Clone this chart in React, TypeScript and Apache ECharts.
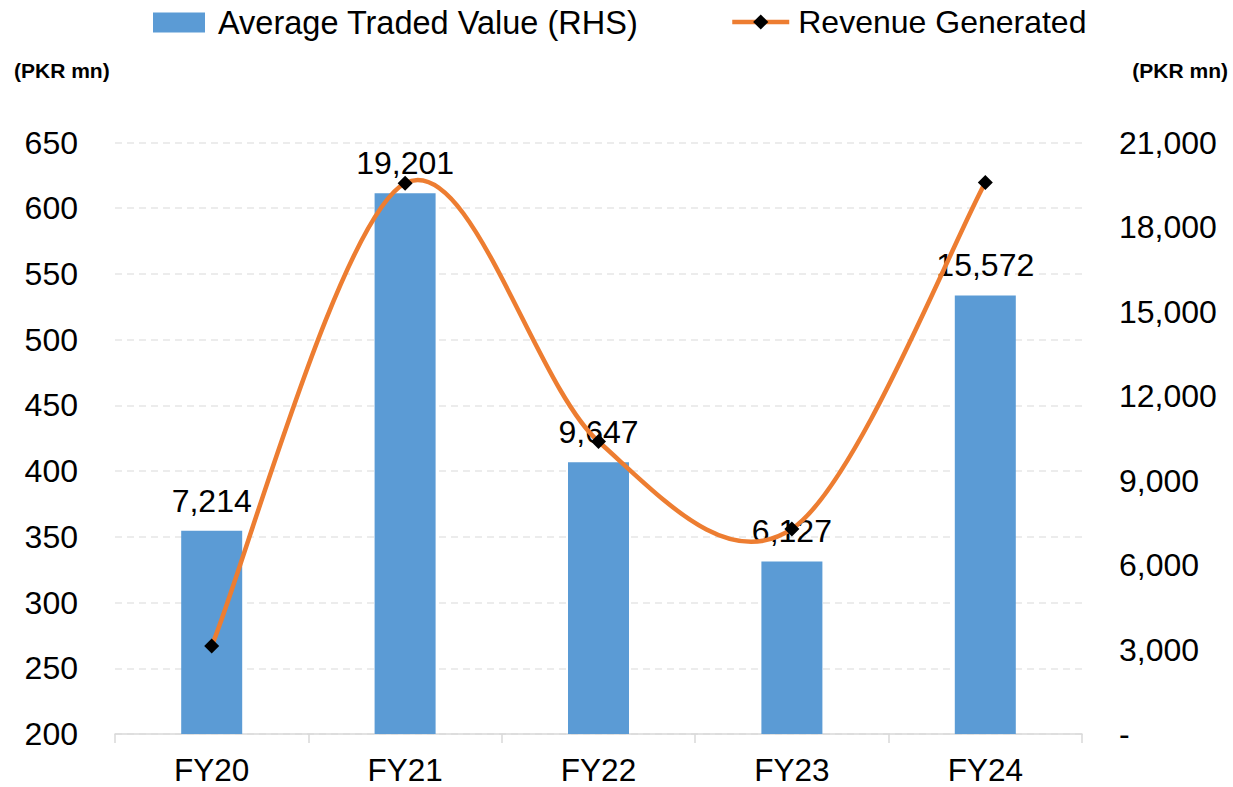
import React, { useEffect, useRef } from "react";
import * as echarts from "echarts";

const categories = ["FY20", "FY21", "FY22", "FY23", "FY24"];
const avgTradedValue = [7214, 19201, 9647, 6127, 15572];
const revenueGenerated = [267, 619, 422.5, 356, 619.5];
const leftAxis = { min: 200, max: 650, interval: 50 };
const rightAxis = { min: 0, max: 21000, interval: 3000 };

const FONT = "Liberation Sans, Arial, sans-serif";
const BAR_COLOR = "#5B9BD5";
const LINE_COLOR = "#ED7D31";

const fmt = (v: number) => v.toLocaleString("en-US");

export default function App() {
  const ref = useRef<HTMLDivElement>(null);
  useEffect(() => {
    if (!ref.current) return;
    const chart = echarts.init(ref.current, undefined, { renderer: "svg" });
    const n = revenueGenerated.length;
    const option: any = {
      animation: false,
      backgroundColor: "#ffffff",
      textStyle: { fontFamily: FONT },
      grid: { left: 115, right: 151, top: 142.5, bottom: 53 },
      legend: [
        {
          data: [{ name: "Average Traded Value (RHS)", icon: "rect" }],
          left: 153,
          top: 6,
          padding: 0,
          itemWidth: 52,
          itemHeight: 20,
          textStyle: { fontSize: 32.5, color: "#000", fontFamily: FONT, padding: [0, 0, 0, 8] },
          selectedMode: false,
        },
        {
          data: ["Revenue Generated"],
          left: 730,
          top: 6,
          padding: 0,
          itemWidth: 57,
          itemHeight: 19,
          lineStyle: { color: LINE_COLOR, width: 4.5, opacity: 1 },
          textStyle: { fontSize: 32, color: "#000", fontFamily: FONT, padding: [0, 0, 0, 4] },
          selectedMode: false,
        },
      ],
      graphic: [
        {
          type: "text",
          left: 14,
          top: 60,
          style: { text: "(PKR mn)", font: `bold 21px ${FONT}`, fill: "#000" },
        },
        {
          type: "text",
          right: 5,
          top: 60,
          style: { text: "(PKR mn)", font: `bold 21px ${FONT}`, fill: "#000" },
        },
      ],
      xAxis: {
        type: "category",
        data: categories,
        boundaryGap: true,
        axisLine: { lineStyle: { color: "#d9d9d9", width: 1.5 } },
        axisTick: { show: true, length: 9, lineStyle: { color: "#d9d9d9", width: 1.5 } },
        axisLabel: { fontSize: 31.5, color: "#000", fontFamily: FONT, margin: 20 },
      },
      yAxis: [
        {
          type: "value",
          min: leftAxis.min,
          max: leftAxis.max,
          interval: leftAxis.interval,
          axisLine: { show: false },
          axisTick: { show: false },
          axisLabel: { fontSize: 32, color: "#000", fontFamily: FONT, margin: 37 },
          splitLine: { show: true, lineStyle: { color: "#e6e6e6", width: 1.5, type: [7, 5] } },
        },
        {
          type: "value",
          position: "right",
          min: rightAxis.min,
          max: rightAxis.max,
          interval: rightAxis.interval,
          axisLine: { show: false },
          axisTick: { show: false },
          axisLabel: {
            fontSize: 32,
            color: "#000",
            fontFamily: FONT,
            margin: 37,
            formatter: (v: number) => (v === 0 ? "-" : fmt(v)),
          },
          splitLine: { show: false },
        },
      ],
      series: [
        {
          name: "Average Traded Value (RHS)",
          type: "bar",
          yAxisIndex: 1,
          data: avgTradedValue,
          barWidth: 61,
          itemStyle: { color: BAR_COLOR },
          label: {
            show: true,
            position: "top",
            distance: 14,
            fontSize: 32,
            color: "#000",
            fontFamily: FONT,
            formatter: (p: any) => fmt(p.value),
          },
          z: 2,
        },
        {
          name: "curve",
          type: "custom",
          yAxisIndex: 0,
          silent: true,
          z: 4,
          data: revenueGenerated.map((v, i) => [i, v]),
          encode: { x: 0, y: 1 },
          renderItem: (params: any, api: any) => {
            const i = params.dataIndex;
            if (i >= n - 1) return { type: "group", children: [] };
            const p = (k: number) => api.coord([k, revenueGenerated[k]]);
            const p0 = p(i);
            const p1 = p(i + 1);
            const pm = i > 0 ? p(i - 1) : p0;
            const p2 = i + 2 < n ? p(i + 2) : p1;
            const t = 1 / 6;
            return {
              type: "bezierCurve",
              shape: {
                x1: p0[0],
                y1: p0[1],
                cpx1: p0[0] + (p1[0] - pm[0]) * t,
                cpy1: p0[1] + (p1[1] - pm[1]) * t,
                cpx2: p1[0] - (p2[0] - p0[0]) * t,
                cpy2: p1[1] - (p2[1] - p0[1]) * t,
                x2: p1[0],
                y2: p1[1],
              },
              style: { stroke: LINE_COLOR, lineWidth: 4.5, fill: null, lineCap: "round" },
            };
          },
        },
        {
          name: "Revenue Generated",
          type: "line",
          yAxisIndex: 0,
          data: revenueGenerated,
          symbol: "diamond",
          symbolSize: 15,
          itemStyle: { color: "#000" },
          lineStyle: { color: LINE_COLOR, width: 4.5, opacity: 0 },
          z: 5,
        },
      ],
    };
    chart.setOption(option);
    return () => chart.dispose();
  }, []);
  return (
    <div
      ref={ref}
      style={{ position: "absolute", left: 0, top: 0, width: 1233, height: 787 }}
    />
  );
}
